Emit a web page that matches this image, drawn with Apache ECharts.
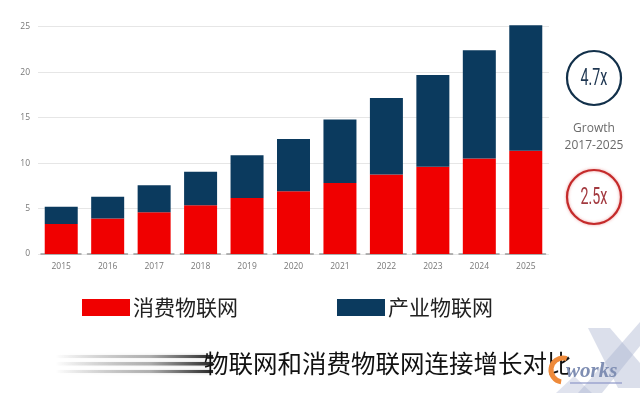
<!DOCTYPE html>
<html>
<head>
<meta charset="utf-8">
<script src="https://cdn.jsdelivr.net/npm/echarts@6/dist/echarts.min.js"></script>
<style>
html,body{margin:0;padding:0;background:#fff;}
#chart{width:640px;height:393px;}
</style>
</head>
<body>
<div id="chart"></div>
<script>
// Data
var years = ['2015','2016','2017','2018','2019','2020','2021','2022','2023','2024','2025'];
var consumerIoT = [3.3, 3.9, 4.6, 5.35, 6.15, 6.9, 7.8, 8.75, 9.6, 10.5, 11.35];
var industrialIoT = [1.9, 2.4, 2.95, 3.7, 4.7, 5.75, 7.0, 8.4, 10.1, 11.9, 13.8];
var seriesNames = ['消费物联网', '产业物联网'];
var yTicks = [0, 5, 10, 15, 20, 25];
var growthIndustrial = '4.7x';
var growthConsumer = '2.5x';
var growthLabel = ['Growth', '2017-2025'];
var caption = '物联网和消费物联网连接增长对比';

var RED = '#f00000';
var NAVY = '#0b3a5e';

var chart = echarts.init(document.getElementById('chart'), null, {renderer: 'canvas'});

var streaks = [];
[[355, 3], [362, 3.5], [370, 3]].forEach(function (s) {
  streaks.push({
    type: 'rect',
    shape: {x: 55, y: s[0], width: 158, height: s[1]},
    style: {
      fill: new echarts.graphic.LinearGradient(0, 0, 1, 0, [
        {offset: 0, color: 'rgba(0,0,0,0)'},
        {offset: 0.6, color: 'rgba(60,60,60,0.35)'},
        {offset: 1, color: 'rgba(20,20,20,0.9)'}
      ]),
      shadowBlur: 3, shadowColor: 'rgba(0,0,0,0.3)'
    },
    z: 5
  });
});

chart.setOption({
  animation: false,
  backgroundColor: '#ffffff',
  grid: {left: 38, right: 91, top: 26.7, bottom: 139, containLabel: false},
  legend: {
    data: seriesNames,
    left: 82, top: 297, padding: 0,
    itemWidth: 48, itemHeight: 17, itemGap: 99,
    icon: 'rect',
    textStyle: {fontSize: 21, color: '#222', fontFamily: 'Noto Sans CJK SC', padding: [0, 0, 0, -2]},
    selectedMode: false
  },
  xAxis: {
    type: 'category',
    data: years,
    axisTick: {show: false},
    axisLine: {show: true, lineStyle: {color: '#9a9a9a', width: 1.5, type: [40, 6.45], dashOffset: 43.45}},
    axisLabel: {fontSize: 8.5, color: '#777', margin: 8, fontFamily: 'Open Sans'}
  },
  yAxis: {
    type: 'value',
    min: yTicks[0], max: yTicks[yTicks.length - 1], interval: 5,
    axisLine: {show: false}, axisTick: {show: false},
    axisLabel: {fontSize: 8.5, color: '#777', margin: 8, fontFamily: 'Open Sans'},
    splitLine: {lineStyle: {color: '#e6e6e6', width: 1}}
  },
  series: [
    {name: seriesNames[0], type: 'bar', stack: 'total', data: consumerIoT, barWidth: 33,
     itemStyle: {color: RED}, clip: false},
    {name: seriesNames[1], type: 'bar', stack: 'total', data: industrialIoT, barWidth: 33,
     itemStyle: {color: NAVY}, clip: false}
  ],
  graphic: [
    {type: 'circle', shape: {cx: 594, cy: 78, r: 27}, style: {fill: 'none', stroke: '#12304a', lineWidth: 2.2}},
    {type: 'text', x: 594, y: 79, scaleX: 0.62, style: {text: growthIndustrial, fill: '#1d3550', fontSize: 23, fontFamily: 'Roboto', align: 'center', verticalAlign: 'middle'}},
    {type: 'text', x: 594, y: 129, style: {text: growthLabel[0], fill: '#6a6a6a', fontSize: 12, fontFamily: 'Open Sans', align: 'center', verticalAlign: 'middle'}},
    {type: 'text', x: 594, y: 146, style: {text: growthLabel[1], fill: '#6a6a6a', fontSize: 12, fontFamily: 'Open Sans', align: 'center', verticalAlign: 'middle'}},
    {type: 'circle', shape: {cx: 594, cy: 197, r: 27}, style: {fill: 'none', stroke: '#c42a2a', lineWidth: 2.2, shadowBlur: 3, shadowColor: 'rgba(220,60,60,0.5)'}},
    {type: 'text', x: 594, y: 198, scaleX: 0.62, style: {text: growthConsumer, fill: '#a33a40', fontSize: 23, fontFamily: 'Roboto', align: 'center', verticalAlign: 'middle'}},
    // watermark logo
    {type: 'polygon', shape: {points: [[588, 328], [610, 328], [640, 363], [640, 388], [618, 388]]}, style: {fill: 'rgba(165,176,205,0.4)'}},
    {type: 'polygon', shape: {points: [[640, 322], [640, 346], [602, 393], [578, 393]]}, style: {fill: 'rgba(165,176,205,0.4)'}},
    {type: 'polygon', shape: {points: [[556, 393], [574, 376], [592, 393]]}, style: {fill: 'rgba(165,176,205,0.35)'}},
    {type: 'arc', shape: {cx: 563, cy: 370, r: 12, startAngle: Math.PI * 0.55, endAngle: Math.PI * 1.6}, style: {stroke: '#ee8a3a', lineWidth: 5, fill: 'none'}, z: 6},
    {type: 'text', x: 566, y: 372, style: {text: 'works', fill: '#7f8eb3', fontSize: 21, fontStyle: 'italic', fontWeight: 'bold', fontFamily: 'Liberation Serif', verticalAlign: 'middle'}, z: 6},
    {type: 'rect', shape: {x: 570, y: 382, width: 52, height: 2}, style: {fill: 'rgba(140,150,200,0.6)'}},
    // motion streaks
    {type: 'group', children: streaks},
    {type: 'text', x: 204, y: 364, style: {text: caption, fill: '#111', fontSize: 24.5, fontFamily: 'Noto Sans CJK SC', verticalAlign: 'middle'}, z: 4}
  ]
});
</script>
</body>
</html>
